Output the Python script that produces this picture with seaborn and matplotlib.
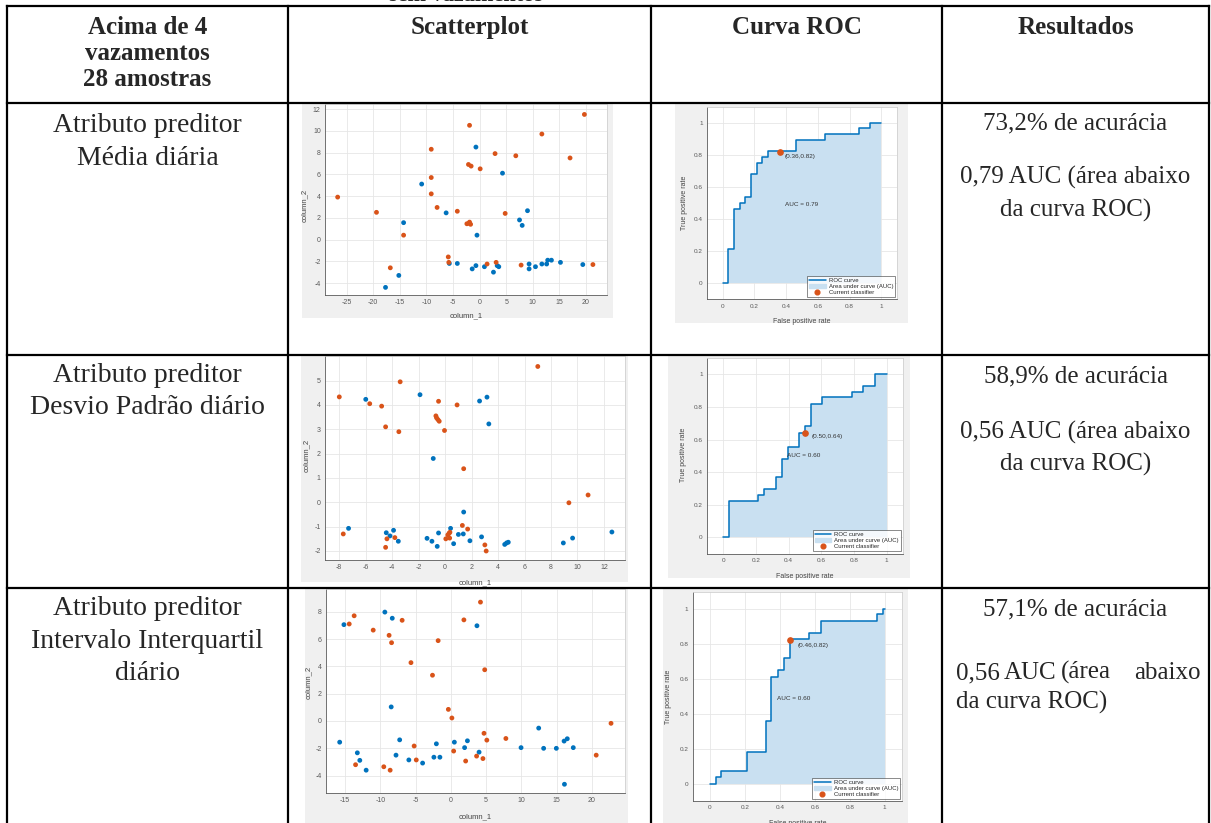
import numpy as np
import pandas as pd
import matplotlib
matplotlib.use('Agg')
import matplotlib.pyplot as plt
import seaborn as sns
from matplotlib.patches import Rectangle
from matplotlib.lines import Line2D
from matplotlib.ticker import FormatStrFormatter

# scatter data
media_blue_x = [-17.7, -15.2, -14.3, -10.9, -6.3, -5.7, -4.2, -1.4, -0.7, -0.7, -0.5, 0.9, 2.6, 3.3,
                3.6, 4.3, 7.5, 8.0, 9.0, 9.3, 9.3, 10.5, 11.7, 12.6, 12.8, 13.5, 15.2, 19.4]
media_blue_y = [-4.4, -3.3, 1.55, 5.1, 2.45, -2.2, -2.2, -2.7, -2.4, 8.5, 0.4, -2.5, -3.0, -2.4,
                -2.5, 6.1, 1.8, 1.3, 2.65, -2.25, -2.7, -2.5, -2.25, -2.25, -1.9, -1.9, -2.1, -2.3]
media_orange_x = [-26.7, -19.4, -16.8, -14.3, -9.1, -9.1, -9.1, -8.0, -5.9, -5.8, -4.2, -1.9, -2.1, -1.6, 0.1,
                  -2.4, -2.0, -1.7, -1.9, 2.9, 4.8, 6.8, 11.7, 17.0, 19.7, 1.4, 3.1, 7.8, 21.3]
media_orange_y = [3.9, 2.5, -2.6, 0.4, 8.3, 5.7, 4.2, 2.95, -1.6, -2.1, 2.6, 10.5, 6.9, 6.75, 6.5,
                  1.45, 1.5, 1.4, 1.6, 7.9, 2.4, 7.7, 9.7, 7.5, 11.5, -2.25, -2.1, -2.35, -2.3]

desvio_blue_x = [-7.3, -6.0, -4.45, -4.17, -3.9, -3.54, -1.9, -1.37, -1.0, -0.9, -0.6, -0.5, 0.41, 0.64,
                 1.0, 1.37, 1.4, 1.87, 2.6, 2.75, 3.16, 3.3, 4.5, 4.64, 4.77, 8.93, 9.63, 12.6]
desvio_blue_y = [-1.07, 4.23, -1.25, -1.38, -1.15, -1.6, 4.42, -1.48, -1.6, 1.8, -1.81, -1.26, -1.07, -1.7,
                 -1.32, -1.3, -0.4, -1.58, 4.16, -1.42, 4.32, 3.22, -1.73, -1.67, -1.64, -1.67, -1.47, -1.22]
desvio_orange_x = [-8.0, -7.7, -5.7, -4.8, -4.5, -4.4, -4.5, -3.8, -3.4, -3.5, -0.5, -0.7, -0.65, -0.55, -0.45,
                   -0.05, 0.9, 1.4, 0.05, 0.2, 0.3, 0.36, 0.34, 1.3, 1.7, 3.0, 3.1, 7.0, 9.35, 10.8]
desvio_orange_y = [4.33, -1.3, 4.05, 3.95, 3.1, -1.5, -1.85, -1.45, 4.95, 2.9, 4.15, 3.55, 3.47, 3.4, 3.33,
                   2.95, 4.0, 1.38, -1.5, -1.34, -1.27, -1.23, -1.47, -0.95, -1.1, -1.75, -2.0, 5.58, -0.02, 0.3]

iqr_blue_x = [-15.75, -15.15, -13.25, -12.9, -12.0, -9.35, -8.3, -8.45, -7.25, -7.77, -5.95, -4.0, -2.4, -2.05,
              -1.55, 0.5, 1.95, 2.35, 4.0, 3.7, 9.95, 12.45, 13.15, 14.95, 16.05, 16.5, 16.1, 17.35]
iqr_blue_y = [-1.55, 7.05, -2.33, -2.88, -3.6, 7.97, 7.52, 1.03, -1.38, -2.5, -2.85, -3.08, -2.65, -1.67,
              -2.65, -1.55, -1.95, -1.45, -2.28, 6.97, -1.95, -0.52, -2.0, -2.0, -1.47, -1.3, -4.63, -1.95]
iqr_orange_x = [-14.4, -13.7, -13.5, -11.0, -9.5, -8.75, -8.6, -8.4, -6.9, -5.65, -5.2, -4.9, -2.6, -1.8,
                -0.35, 0.15, 0.4, 1.85, 2.1, 3.65, 4.2, 4.8, 4.55, 4.7, 5.1, 7.8, 20.6, 22.7]
iqr_orange_y = [7.1, 7.7, -3.2, 6.65, -3.35, 6.27, -3.6, 5.73, 7.37, 4.27, -1.83, -2.85, 3.35, 5.88,
                0.85, 0.22, -2.2, 7.4, -2.93, -2.57, 8.7, 3.75, -2.75, -0.9, -1.4, -1.28, -2.5, -0.17]

# ROC step points (fpr, tpr)
roc_media_fpr = [0, 0.036, 0.071, 0.107, 0.143, 0.179, 0.214, 0.25, 0.286, 0.464, 0.643, 0.857, 0.929, 1.0]
roc_media_tpr = [0, 0.214, 0.464, 0.5, 0.536, 0.679, 0.75, 0.786, 0.821, 0.893, 0.929, 0.964, 1.0, 1.0]
roc_desvio_fpr = [0, 0.036, 0.214, 0.25, 0.321, 0.357, 0.393, 0.464, 0.5, 0.536, 0.607, 0.786, 0.857, 0.929, 1.0]
roc_desvio_tpr = [0, 0.222, 0.259, 0.296, 0.37, 0.481, 0.556, 0.64, 0.68, 0.82, 0.86, 0.89, 0.93, 1.0, 1.0]
roc_iqr_fpr = [0, 0.032, 0.065, 0.21, 0.32, 0.351, 0.387, 0.424, 0.46, 0.565, 0.637, 0.958, 0.99, 1.0]
roc_iqr_tpr = [0, 0.038, 0.074, 0.181, 0.359, 0.609, 0.649, 0.718, 0.826, 0.861, 0.931, 0.969, 1.0, 1.0]
op_points = [(0.36, 0.82), (0.50, 0.64), (0.46, 0.82)]
auc_values = [0.79, 0.60, 0.60]

header = ['Acima de 4\nvazamentos\n28 amostras', 'Scatterplot', 'Curva ROC', 'Resultados']
atributos = [['Atributo preditor', 'Média diária'],
             ['Atributo preditor', 'Desvio Padrão diário'],
             ['Atributo preditor', 'Intervalo Interquartil', 'diário']]
acuracia = ['73,2%', '58,9%', '57,1%']
auc_txt = ['0,79', '0,56', '0,56']

BLUE = '#0072BD'
ORANGE = '#D95319'
FILL = '#c9e0f1'
W, H = 1211, 823
SERIF = ['Liberation Serif', 'DejaVu Serif']

sns.set_style('white')
plt.rcParams['font.family'] = ['Liberation Sans', 'DejaVu Sans']
plt.rcParams['axes.unicode_minus'] = False

fig = plt.figure(figsize=(W / 100, H / 100), dpi=100)
bg = fig.add_axes([0, 0, 1, 1], zorder=0)
top = fig.add_axes([0, 0, 1, 1], zorder=20)
for a in (bg, top):
    a.set_xlim(0, W)
    a.set_ylim(H, 0)
    a.axis('off')
top.patch.set_alpha(0)


def embed(box, back):
    bg.add_patch(Rectangle((back[0], back[1]), back[2] - back[0], back[3] - back[1],
                           color='#f0f0f0', lw=0))
    x0, y0, x1, y1 = box
    ax = fig.add_axes([x0 / W, 1 - y1 / H, (x1 - x0) / W, (y1 - y0) / H], zorder=5)
    ax.set_facecolor('white')
    for s in ['left', 'bottom']:
        ax.spines[s].set_color('#5a5a5a')
    for s in ['top', 'right']:
        ax.spines[s].set_color('#d0d0d0')
    for s in ax.spines.values():
        s.set_linewidth(0.6)
    ax.grid(True, color='#e6e6e6', lw=0.6)
    ax.set_axisbelow(True)
    ax.tick_params(direction='in', length=2, width=0.5, labelsize=5, colors='#5a5a5a', pad=3)
    return ax


def labels_at(ax, box, xl, yl, xlab, ylab, fs):
    x0, y0, x1, y1 = box
    ax.set_xlabel(xlab, fontsize=fs, color='#444444')
    ax.set_ylabel(ylab, fontsize=fs, color='#444444')
    ax.xaxis.set_label_coords(0.5, (y1 - xl) / (y1 - y0))
    ax.yaxis.set_label_coords((yl[0] - x0) / (x1 - x0), (y1 - yl[1]) / (y1 - y0))


scatter_sets = [
    (media_blue_x, media_blue_y, media_orange_x, media_orange_y,
     (325, 104, 607, 295), (302, 103, 613, 318), (-29.08, 23.95), (-5.1, 12.46),
     np.arange(-25, 21, 5), np.arange(-4, 13, 2), 312, (308, 205)),
    (desvio_blue_x, desvio_blue_y, desvio_orange_x, desvio_orange_y,
     (325, 356, 625, 560), (301, 355, 628, 582), (-9.08, 13.59), (-2.37, 6.01),
     np.arange(-8, 13, 2), np.arange(-2, 6, 1), 579, (310, 455)),
    (iqr_blue_x, iqr_blue_y, iqr_orange_x, iqr_orange_y,
     (326, 589, 625, 793), (305, 588, 628, 823), (-17.69, 24.68), (-5.27, 9.66),
     np.arange(-15, 21, 5), np.arange(-4, 9, 2), 813, (312, 682)),
]

for bx, by, ox, oy, box, back, xlim, ylim, xt, yt, xl, yl in scatter_sets:
    ax = embed(box, back)
    df = pd.DataFrame({'column_1': bx + ox, 'column_2': by + oy,
                       'classe': ['0'] * len(bx) + ['1'] * len(ox)})
    sns.scatterplot(data=df, x='column_1', y='column_2', hue='classe',
                    palette={'0': BLUE, '1': ORANGE}, s=12, linewidth=0, legend=False, ax=ax)
    ax.set_xlim(*xlim)
    ax.set_ylim(*ylim)
    ax.set_xticks(xt)
    ax.set_yticks(yt)
    labels_at(ax, box, xl, yl, 'column_1', 'column_2', 5.5)

roc_sets = [
    (roc_media_fpr, roc_media_tpr, (706.8, 106.6, 897.2, 299.4), (675, 103, 908, 323),
     (0.39, 0.79), (0.39, 0.49), 318, (688, 203)),
    (roc_desvio_fpr, roc_desvio_tpr, (707, 358, 903, 553.6), (668, 355, 910, 578),
     (0.54, 0.62), (0.39, 0.50), 573, (687, 455)),
    (roc_iqr_fpr, roc_iqr_tpr, (692.5, 591.5, 902.2, 801.1), (663, 588, 908, 823),
     (0.50, 0.79), (0.385, 0.49), 820, (672, 697)),
]

for i, (fpr, tpr, box, back, op_pos, auc_pos, xl, yl) in enumerate(roc_sets):
    ax = embed(box, back)
    df = pd.DataFrame({'fpr': fpr, 'tpr': tpr})
    ax.fill_between(fpr, tpr, step='post', color=FILL, lw=0)
    sns.lineplot(data=df, x='fpr', y='tpr', drawstyle='steps-post', color=BLUE, lw=1.1,
                 estimator=None, sort=False, ax=ax)
    op = op_points[i]
    ax.plot(op[0], op[1], 'o', color=ORANGE, ms=3.8, zorder=6)
    ax.text(op_pos[0], op_pos[1], f'({op[0]:.2f},{op[1]:.2f})', fontsize=4.6,
            va='center', color='#333333')
    ax.text(auc_pos[0], auc_pos[1], f'AUC = {auc_values[i]:.2f}', fontsize=4.6,
            va='center', color='#333333')
    ax.set_xlim(-0.1, 1.1)
    ax.set_ylim(-0.1, 1.1)
    ticks = [0, 0.2, 0.4, 0.6, 0.8, 1]
    ax.set_xticks(ticks)
    ax.set_yticks(ticks)
    ax.xaxis.set_major_formatter(FormatStrFormatter('%g'))
    ax.yaxis.set_major_formatter(FormatStrFormatter('%g'))
    ax.tick_params(labelsize=4.6)
    handles = [Line2D([], [], color=BLUE, lw=1.1),
               Rectangle((0, 0), 1, 1, color=FILL),
               Line2D([], [], marker='o', ls='', color=ORANGE, ms=3.4)]
    leg = ax.legend(handles, ['ROC curve', 'Area under curve (AUC)', 'Current classifier'],
                    loc='lower right', frameon=True, fancybox=False,
                    handlelength=2.8, handletextpad=0.5, borderpad=0.3, labelspacing=0.15,
                    borderaxespad=0.4, prop={'size': 4.3})
    leg.get_frame().set_edgecolor('#333333')
    leg.get_frame().set_linewidth(0.5)
    labels_at(ax, box, xl, yl, 'False positive rate', 'True positive rate', 5)

# table lines
cols = [7, 288, 651, 942, 1209]
rows = [6, 103, 355, 588]
for x in cols:
    top.plot([x, x], [rows[0], H], color='black', lw=1.6, solid_capstyle='projecting')
for y in rows:
    top.plot([cols[0], cols[-1]], [y, y], color='black', lw=1.6, solid_capstyle='projecting')

# title of the previous table, mostly cut off at the top
top.text(466, -4, 'sem vazamentos', fontsize=16, weight='bold', ha='center', va='center', family=SERIF)

# header
for j, txt in enumerate(header):
    cx = (cols[j] + cols[j + 1]) / 2
    for k, line in enumerate(txt.split('\n')):
        top.text(cx, 34 + k * 26, line, fontsize=18, weight='bold', ha='center', va='baseline',
                 family=SERIF)

# first column
attr_base = [[132, 165], [382, 414], [615, 648, 680]]
cx0 = (cols[0] + cols[1]) / 2
for lines, bases in zip(atributos, attr_base):
    for line, yb in zip(lines, bases):
        top.text(cx0, yb, line, fontsize=20, ha='center', va='baseline', family=SERIF)

# results column
cx3 = (cols[3] + cols[4]) / 2
res_base = [[129, 184, 217], [382, 439, 471], [615, 679, 709]]
for r in range(3):
    b = res_base[r]
    top.text(cx3, b[0], f'{acuracia[r]} de acurácia', fontsize=18, ha='center', va='baseline',
             family=SERIF)
    if r < 2:
        top.text(cx3, b[1], f'{auc_txt[r]} AUC (área abaixo', fontsize=18, ha='center',
                 va='baseline', family=SERIF)
        top.text(cx3, b[2], 'da curva ROC)', fontsize=18, ha='center', va='baseline', family=SERIF)
    else:
        for word, wx in zip([auc_txt[r], 'AUC', '(área', 'abaixo'], [956, 1004, 1061, 1134]):
            top.text(wx, b[1], word, fontsize=18, ha='left', va='baseline', family=SERIF)
        top.text(956, b[2], 'da curva ROC)', fontsize=18, ha='left', va='baseline', family=SERIF)

fig.savefig('out.png', dpi=100)
plt.close(fig)
